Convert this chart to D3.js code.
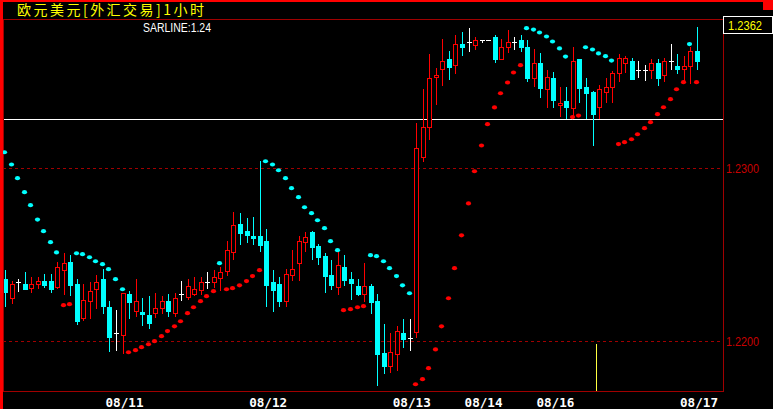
<!DOCTYPE html>
<html><head><meta charset="utf-8">
<script src="https://cdn.jsdelivr.net/npm/d3@7/dist/d3.min.js"></script>
<style>body{margin:0;background:#000;overflow:hidden}svg{display:block}</style>
</head><body><svg id="c" width="773" height="409"></svg>
<script>
// ---- data (EUR/USD 1h) ----
const title = "欧元美元[外汇交易]1小时";
const sarLabel = "SARLINE:1.24";
const open = [
1.22358,1.22247,1.22339,1.22330,1.22305,1.22328,1.22347,1.22347,1.22314,1.22412,
1.22457,1.22330,1.22135,1.22233,1.22299,1.22358,1.22197,1.22045,1.22036,1.22272,
1.22175,1.22168,1.22150,1.22160,1.22189,1.22230,1.22164,1.22270,1.22256,1.22273,
1.22297,1.22339,1.22341,1.22366,1.22406,1.22516,1.22676,1.22636,1.22607,1.22607,
1.22578,1.22341,1.22330,1.22233,1.22383,1.22449,1.22574,1.22630,1.22549,1.22491,
1.22382,1.22314,1.22428,1.22358,1.22318,1.22273,1.22318,1.22231,1.21931,1.21857,
1.21927,1.22046,1.22017,1.22054,1.23065,1.23235,1.23524,1.23574,1.23628,1.23594,
1.23717,1.23727,1.23713,1.23737,1.23738,1.23755,1.23632,1.23698,1.23727,1.23738,
1.23698,1.23522,1.23605,1.23455,1.23518,1.23366,1.23386,1.23345,1.23628,1.23466,
1.23441,1.23354,1.23441,1.23466,1.23547,1.23605,1.23617,1.23565,1.23565,1.23565,
1.23605,1.23536,1.23617,1.23588,1.23574,1.23588,1.23675];
const high = [
1.22410,1.22349,1.22357,1.22399,1.22370,1.22370,1.22387,1.22387,1.22457,1.22509,
1.22495,1.22357,1.22330,1.22341,1.22382,1.22414,1.22231,1.22179,1.22276,1.22289,
1.22358,1.22249,1.22260,1.22276,1.22260,1.22272,1.22276,1.22347,1.22358,1.22370,
1.22370,1.22399,1.22410,1.22426,1.22578,1.22746,1.22738,1.22711,1.22717,1.23040,
1.22647,1.22410,1.22370,1.22414,1.22526,1.22607,1.22630,1.22636,1.22561,1.22510,
1.22468,1.22526,1.22497,1.22399,1.22358,1.22451,1.22330,1.22272,1.22098,1.22046,
1.22088,1.22127,1.22127,1.23258,1.23455,1.23659,1.23576,1.23746,1.23675,1.23769,
1.23784,1.23808,1.23755,1.23738,1.23738,1.23769,1.23746,1.23798,1.23757,1.23769,
1.23738,1.23688,1.23665,1.23565,1.23553,1.23466,1.23466,1.23698,1.23628,1.23518,
1.23447,1.23478,1.23520,1.23559,1.23657,1.23647,1.23634,1.23617,1.23594,1.23630,
1.23628,1.23636,1.23717,1.23659,1.23647,1.23698,1.23815];
const low = [
1.22204,1.22218,1.22291,1.22300,1.22285,1.22305,1.22314,1.22285,1.22305,1.22272,
1.22266,1.22097,1.22123,1.22135,1.22189,1.22164,1.21944,1.21948,1.21929,1.22135,
1.22145,1.22094,1.22077,1.22137,1.22160,1.22146,1.22146,1.22237,1.22243,1.22266,
1.22270,1.22306,1.22314,1.22295,1.22383,1.22474,1.22561,1.22572,1.22559,1.22520,
1.22204,1.22175,1.22204,1.22204,1.22353,1.22353,1.22522,1.22476,1.22447,1.22285,
1.22302,1.22273,1.22325,1.22245,1.22266,1.22233,1.22164,1.21747,1.21817,1.21821,
1.21834,1.21967,1.21950,1.22025,1.23042,1.23166,1.23372,1.23478,1.23516,1.23551,
1.23655,1.23678,1.23686,1.23730,1.23738,1.23614,1.23628,1.23672,1.23690,1.23675,
1.23505,1.23472,1.23412,1.23354,1.23354,1.23302,1.23291,1.23297,1.23383,1.23291,
1.23135,1.23291,1.23383,1.23383,1.23505,1.23557,1.23516,1.23528,1.23510,1.23522,
1.23481,1.23505,1.23570,1.23547,1.23505,1.23493,1.23574];
const close = [
1.22285,1.22330,1.22339,1.22302,1.22330,1.22345,1.22324,1.22302,1.22426,1.22449,
1.22325,1.22117,1.22237,1.22287,1.22341,1.22204,1.22025,1.22045,1.22276,1.22225,
1.22230,1.22158,1.22106,1.22189,1.22230,1.22175,1.22247,1.22270,1.22318,1.22301,
1.22339,1.22339,1.22370,1.22397,1.22524,1.22669,1.22624,1.22613,1.22597,1.22555,
1.22324,1.22295,1.22233,1.22386,1.22416,1.22578,1.22599,1.22545,1.22487,1.22378,
1.22325,1.22439,1.22354,1.22337,1.22273,1.22318,1.22227,1.21927,1.21857,1.21936,
1.22058,1.22012,1.22017,1.23116,1.23235,1.23518,1.23536,1.23617,1.23586,1.23715,
1.23701,1.23727,1.23738,1.23737,1.23738,1.23632,1.23698,1.23727,1.23727,1.23701,
1.23522,1.23605,1.23464,1.23524,1.23395,1.23377,1.23354,1.23617,1.23464,1.23435,
1.23314,1.23455,1.23466,1.23547,1.23634,1.23634,1.23516,1.23565,1.23565,1.23605,
1.23522,1.23617,1.23617,1.23574,1.23588,1.23675,1.23617];
const sar = [
1.23094,1.23023,1.22944,1.22863,1.22788,1.22705,1.22638,1.22574,1.22515,1.22210,
1.22216,1.22510,1.22505,1.22487,1.22464,1.22447,1.22418,1.22360,1.22302,1.21938,
1.21950,1.21967,1.21984,1.22002,1.22031,1.22060,1.22088,1.22117,1.22164,1.22198,
1.22233,1.22262,1.22291,1.22453,1.22302,1.22308,1.22325,1.22349,1.22378,1.22412,
1.23042,1.23023,1.22990,1.22944,1.22886,1.22834,1.22776,1.22742,1.22701,1.22655,
1.22580,1.22528,1.22181,1.22187,1.22198,1.22204,1.22499,1.22493,1.22464,1.22424,
1.22378,1.22325,1.22279,1.21753,1.21782,1.21846,1.21954,1.22088,1.22250,1.22424,
1.22614,1.22798,1.22984,1.23133,1.23256,1.23353,1.23435,1.23497,1.23555,1.23597,
1.23811,1.23803,1.23786,1.23763,1.23734,1.23694,1.23647,1.23297,1.23306,1.23701,
1.23688,1.23665,1.23649,1.23624,1.23141,1.23152,1.23169,1.23198,1.23233,1.23268,
1.23314,1.23354,1.23401,1.23458,1.23499,1.23719,1.23499];
const tickIdx = [18, 40, 62, 73, 84, 106];
const tickLabels = ["08/11","08/12","08/13","08/14","08/16","08/17"];
const priceTicks = [1.22, 1.23];
const hLines = [1.23283];
const markerIdx = 90.38, markerTop = 1.21983;

// ---- layout ----
const W = 773, H = 409;
const L = 3, T = 19, R = 723, B = 391;
const svg = d3.select('#c');
svg.append('rect').attr('width', W).attr('height', H).attr('fill', '#000');

const x = d3.scaleLinear().domain([0, open.length - 1]).range([5.5, 697.5]);
const y = d3.scaleLinear().domain([1.22, 1.23]).range([341, 168]);
const px = i => Math.round(x(i) - 0.5) + 0.5;
const py = v => Math.round(y(v));

const g = svg.append('g').attr('shape-rendering', 'crispEdges');

// grid lines
g.selectAll('line.grid').data(priceTicks).join('line')
  .attr('x1', L).attr('x2', R)
  .attr('y1', d => py(d) + 0.5).attr('y2', d => py(d) + 0.5)
  .attr('stroke', '#a00000').attr('stroke-dasharray', '3,3');

// horizontal white line
g.selectAll('line.h').data(hLines).join('line')
  .attr('x1', L).attr('x2', R)
  .attr('y1', d => py(d) + 0.5).attr('y2', d => py(d) + 0.5)
  .attr('stroke', '#ffffff');

// marker
g.append('line')
  .attr('x1', Math.round(x(markerIdx)) + 0.5).attr('x2', Math.round(x(markerIdx)) + 0.5)
  .attr('y1', py(markerTop)).attr('y2', B)
  .attr('stroke', '#ffff40');

// candles
const idx = d3.range(open.length);
const colorOf = i => close[i] > open[i] ? '#ff0000' : (close[i] < open[i] ? '#00ffff' : '#ffffff');
// wicks
g.selectAll('rect.wick').data(idx).join('rect')
  .attr('x', i => px(i) - 0.5).attr('width', 1)
  .attr('y', i => py(high[i])).attr('height', i => Math.max(1, py(low[i]) - py(high[i]) + 1))
  .attr('fill', colorOf);
// down bodies (filled)
g.selectAll('rect.down').data(idx.filter(i => close[i] < open[i])).join('rect')
  .attr('x', i => px(i) - 2.5).attr('width', 5)
  .attr('y', i => py(open[i])).attr('height', i => Math.max(1, py(close[i]) - py(open[i]) + 1))
  .attr('fill', '#00ffff');
// up bodies (hollow)
g.selectAll('rect.up').data(idx.filter(i => close[i] > open[i])).join('rect')
  .attr('x', i => px(i) - 2).attr('width', 4)
  .attr('y', i => py(close[i]) + 0.5).attr('height', i => Math.max(0, py(open[i]) - py(close[i])))
  .attr('fill', '#000').attr('stroke', '#ff0000');
// doji ticks
g.selectAll('line.doji').data(idx.filter(i => close[i] === open[i])).join('line')
  .attr('x1', i => px(i) - 2.5).attr('x2', i => px(i) + 2.5)
  .attr('y1', i => py(open[i]) + 0.5).attr('y2', i => py(open[i]) + 0.5)
  .attr('stroke', '#ffffff');

// SAR dots
svg.selectAll('ellipse.sar').data(idx).join('ellipse')
  .attr('cx', i => px(i) - 1).attr('cy', i => y(sar[i]) + 0.5)
  .attr('rx', 2.6).attr('ry', 2.1)
  .attr('fill', i => sar[i] > close[i] ? '#00ffff' : '#ff0000');

// frame
g.append('rect').attr('x', L + 0.5).attr('y', T + 0.5)
  .attr('width', R - L).attr('height', B - T)
  .attr('fill', 'none').attr('stroke', '#a00000');

// right axis
const ya = svg.append('g').attr('transform', `translate(${R},0.5)`)
  .call(d3.axisRight(y).tickValues(priceTicks).tickFormat(d3.format('.4f')).tickSize(0).tickPadding(3));
ya.select('.domain').remove();
ya.selectAll('text').attr('fill', '#c80000')
  .attr('font-family', 'Liberation Sans, Arial, sans-serif').attr('font-size', 12)
  .attr('textLength', 33).attr('lengthAdjust', 'spacingAndGlyphs');

// bottom axis
const xa = svg.append('g').attr('transform', `translate(1,${B})`)
  .call(d3.axisBottom(x).tickValues(tickIdx).tickFormat((d, i) => tickLabels[i]).tickSize(0));
xa.select('.domain').remove();
xa.selectAll('text').attr('y', 16).attr('dy', 0).attr('fill', '#ffffff')
  .attr('font-family', 'DejaVu Sans Mono, monospace').attr('font-weight', 'bold').attr('font-size', 13)
  .attr('textLength', 38).attr('lengthAdjust', 'spacingAndGlyphs');

// chrome
svg.append('rect').attr('x', 0).attr('y', 0).attr('width', 3).attr('height', H).attr('fill', '#ff0000');
svg.append('rect').attr('x', 0).attr('y', 0).attr('width', 763).attr('height', 2).attr('fill', '#ff0000');
svg.append('rect').attr('x', 763).attr('y', 0).attr('width', 10).attr('height', 10).attr('fill', '#ff0000');

svg.append('text').attr('x', 17).attr('y', 15).text(title)
  .attr('fill', '#ffff00').attr('font-family', 'Noto Sans CJK SC').attr('font-size', 14)
  .attr('textLength', 187).attr('lengthAdjust', 'spacing');

svg.append('text').attr('x', 143).attr('y', 32).text(sarLabel)
  .attr('fill', '#ffffff').attr('font-family', 'Liberation Sans, Arial, sans-serif').attr('font-size', 12)
  .attr('textLength', 68).attr('lengthAdjust', 'spacingAndGlyphs');

// last price box
svg.append('rect').attr('x', R + 0.5).attr('y', 16.5).attr('width', 49).attr('height', 17)
  .attr('fill', '#000').attr('stroke', '#ffffff').attr('shape-rendering', 'crispEdges');
svg.append('text').attr('x', 728).attr('y', 30).text(d3.format('.4f')(close[close.length - 1]))
  .attr('fill', '#ffff00').attr('font-family', 'Liberation Sans, Arial, sans-serif').attr('font-size', 12)
  .attr('textLength', 34).attr('lengthAdjust', 'spacingAndGlyphs');
</script>
</body></html>
